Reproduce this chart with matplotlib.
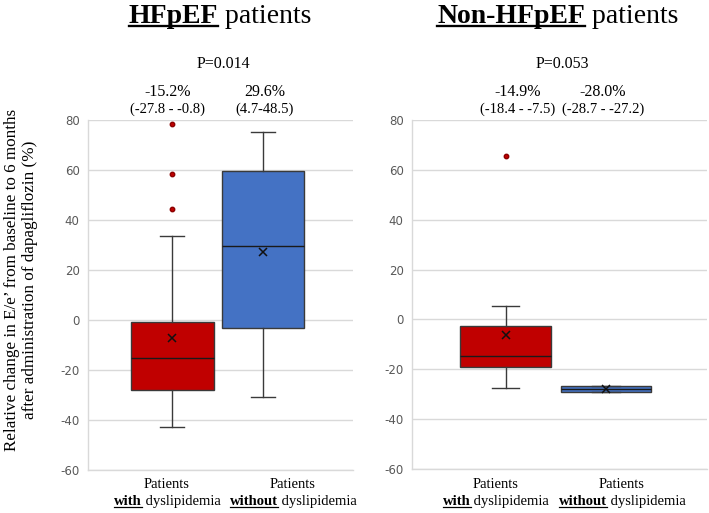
import matplotlib
matplotlib.use("Agg")
import matplotlib.pyplot as plt
import matplotlib.transforms as mtransforms
from matplotlib.lines import Line2D

# ---------------- data ----------------
groups = ["with", "without"]
colors = ["#C00000", "#4472C4"]

# HFpEF panel
hf_q1 = [-27.9, -3.1]
hf_med = [-15.3, 29.6]
hf_q3 = [-0.7, 59.6]
hf_lo = [-42.7, -30.8]
hf_hi = [33.7, 75.2]
hf_mean = [-7.3, 27.1]
hf_fliers = [[78.4, 58.4, 44.4], []]
hf_pct = ["-15.2%", "29.6%"]
hf_ci = ["(-27.8 - -0.8)", "(4.7-48.5)"]
hf_p = "P=0.014"

# Non-HFpEF panel
nh_q1 = [-19.2, -29.1]
nh_med = [-14.7, -27.8]
nh_q3 = [-2.7, -26.6]
nh_lo = [-27.4, -29.1]
nh_hi = [5.5, -26.6]
nh_mean = [-6.3, -28.0]
nh_fliers = [[65.5], []]
nh_pct = ["-14.9%", "-28.0%"]
nh_ci = ["(-18.4 - -7.5)", "(-28.7 - -27.2)"]
nh_p = "P=0.053"

yticks = [-60, -40, -20, 0, 20, 40, 60, 80]

W, H = 709, 513
fig = plt.figure(figsize=(W / 100, H / 100), dpi=100)
SERIF = "Liberation Serif"
ID = mtransforms.IdentityTransform()


def px(x, y):
    return x, H - y


def make_axes(left, right, top, bottom):
    return fig.add_axes([left / W, 1 - bottom / H, (right - left) / W, (bottom - top) / H])


def draw_panel(ax, q1, med, q3, lo, hi, mean, fliers, xlim, width, capw):
    stats = []
    for i in range(2):
        stats.append(dict(q1=q1[i], med=med[i], q3=q3[i], whislo=lo[i], whishi=hi[i],
                          mean=mean[i], fliers=fliers[i]))
    bp = ax.bxp(stats, positions=[0, 1], widths=width, patch_artist=True, showmeans=True,
                capwidths=capw,
                boxprops=dict(edgecolor="#3a3a3a", linewidth=1.0),
                medianprops=dict(color="#1a1a1a", linewidth=1.0),
                whiskerprops=dict(color="#3a3a3a", linewidth=1.0),
                capprops=dict(color="#3a3a3a", linewidth=1.0),
                meanprops=dict(marker="x", markeredgecolor="#111111", markersize=6,
                               markeredgewidth=1.1),
                flierprops=dict(marker="o", markerfacecolor="#C00000",
                                markeredgecolor="#8b0000", markersize=3.2))
    for patch, c in zip(bp["boxes"], colors):
        patch.set_facecolor(c)
    ax.set_xlim(*xlim)
    ax.set_ylim(-60, 80)
    ax.set_yticks(yticks)
    ax.set_yticklabels([str(t) for t in yticks], color="#595959", fontsize=8.5,
                       family="DejaVu Sans")
    ax.set_xticks([])
    ax.tick_params(axis="y", length=0, pad=6)
    ax.grid(axis="y", color="#d9d9d9", linewidth=1.0)
    ax.set_axisbelow(True)
    for s in ["top", "right"]:
        ax.spines[s].set_visible(False)
    for s in ["left", "bottom"]:
        ax.spines[s].set_color("#d9d9d9")
        ax.spines[s].set_linewidth(1.0)


ax1 = make_axes(88, 353, 120, 470)
draw_panel(ax1, hf_q1, hf_med, hf_q3, hf_lo, hf_hi, hf_mean, hf_fliers,
           (-0.926, 1.989), 0.91, 0.264)
ax2 = make_axes(412, 707, 120, 469)
draw_panel(ax2, nh_q1, nh_med, nh_q3, nh_lo, nh_hi, nh_mean, nh_fliers,
           (-0.932, 2.006), 0.906, 0.27)

renderer = fig.canvas.get_renderer()


def mixed(xc, ybase, bold, normal, size):
    t1 = fig.text(0, 0, bold, transform=ID, family=SERIF, weight="bold", fontsize=size,
                  va="baseline", ha="left")
    t2 = fig.text(0, 0, normal, transform=ID, family=SERIF, fontsize=size,
                  va="baseline", ha="left")
    w1 = t1.get_window_extent(renderer).width
    w2 = t2.get_window_extent(renderer).width
    start = xc - (w1 + w2) / 2
    xb, yb = px(start, ybase)
    t1.set_position((xb, yb))
    t2.set_position((xb + w1, yb))
    off = size * 100 / 72 * 0.11
    lw = max(0.8, size / 12)
    fig.add_artist(Line2D([xb, xb + w1], [yb - off, yb - off], transform=ID,
                          color="black", linewidth=lw))


def ctext(xc, ybase, s, size):
    x, y = px(xc, ybase)
    fig.text(x, y, s, transform=ID, family=SERIF, fontsize=size, ha="center", va="baseline")


# titles
mixed(220, 23, "HFpEF", " patients", 20)
mixed(558, 23, "Non-HFpEF", " patients", 20)

# p values
ctext(223, 68, hf_p, 11.5)
ctext(562, 68, nh_p, 11.5)

# percentages and CI
for xc, pct, ci in zip([168, 265], hf_pct, hf_ci):
    ctext(xc, 96, pct, 11.5)
    ctext(xc, 113, ci, 10.5)
for xc, pct, ci in zip([518, 603], nh_pct, nh_ci):
    ctext(xc, 96, pct, 11.5)
    ctext(xc, 113, ci, 10.5)

# category labels
for xs in ([167, 293], [496, 622]):
    for xc, g in zip(xs, groups):
        ctext(xc, 488, "Patients", 10.5)
        mixed(xc, 505, g, " dyslipidemia", 10.5)

# y label
x, y = px(21, 280)
fig.text(x, y, "Relative change in E/e\u2019 from baseline to 6 months\nafter administration of dapagliflozin (%)",
         transform=ID, family=SERIF, fontsize=12.3, rotation=90, ha="center", va="center",
         multialignment="center", linespacing=1.1)

fig.savefig("out.png", dpi=100)
